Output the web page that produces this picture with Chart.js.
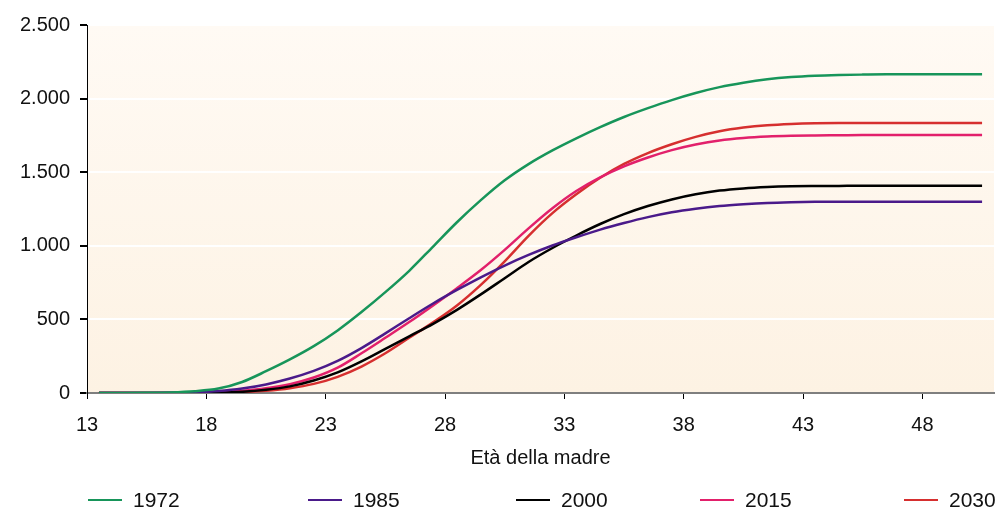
<!DOCTYPE html>
<html>
<head>
<meta charset="utf-8">
<script src="https://cdn.jsdelivr.net/npm/chart.js@4/dist/chart.umd.min.js"></script>
<style>
  body { margin: 0; background: #fff; }
  .wrap { position: relative; width: 999px; height: 509px; }
  .legend { position: absolute; left: 0; top: 488px; width: 999px; height: 24px;
            font: 21px "Liberation Sans", Arial, sans-serif; color: #111; }
  .legend-item { position: absolute; top: 0; height: 24px; display: flex; align-items: center; }
  .legend-line { width: 34px; height: 2.5px; margin-right: 11px; }
</style>
</head>
<body>
<div class="wrap">
  <canvas id="chart" width="999" height="509"></canvas>
  <div class="legend" id="legend"></div>
</div>
<script>
// Data (cumulated births per 1000 women, by age of mother)
const ages = [13, 14, 15, 16, 17, 18, 19, 20, 21, 22, 23, 24, 25, 26, 27, 28, 29, 30, 31,
  32, 33, 34, 35, 36, 37, 38, 39, 40, 41, 42, 43, 44, 45, 46, 47, 48, 49, 50];

const years = ["1972", "1985", "2000", "2015", "2030"];

const births1972 = [0, 0, 1, 4, 12, 30, 75, 148, 228, 318, 425, 550, 685, 830, 995, 1160, 1310,
  1445, 1555, 1648, 1730, 1806, 1875, 1935, 1990, 2038, 2078, 2108, 2131, 2146, 2155, 2160,
  2163, 2165, 2165, 2165, 2165, 2165];
const births1985 = [0, 0, 0, 1, 4, 13, 30, 58, 98, 150, 218, 305, 405, 508, 608, 700, 786, 866,
  938, 1002, 1058, 1110, 1155, 1195, 1228, 1252, 1270, 1282, 1291, 1296, 1299, 1300, 1300,
  1300, 1300, 1300, 1300, 1300];
const births2000 = [0, 0, 0, 0, 0, 2, 8, 22, 45, 85, 140, 215, 300, 385, 470, 565, 670, 780,
  890, 985, 1070, 1148, 1215, 1270, 1315, 1350, 1375, 1390, 1399, 1404, 1406, 1407, 1408,
  1408, 1408, 1408, 1408, 1408];
const births2015 = [0, 0, 0, 0, 1, 5, 15, 32, 60, 105, 172, 270, 375, 482, 595, 712, 835, 972,
  1118, 1255, 1372, 1465, 1540, 1600, 1650, 1688, 1716, 1733, 1743, 1748, 1750, 1751, 1752,
  1752, 1752, 1752, 1752, 1752];
const births2030 = [0, 0, 0, 0, 0, 1, 6, 16, 33, 62, 110, 180, 270, 375, 480, 595, 735, 895,
  1068, 1222, 1350, 1462, 1556, 1630, 1690, 1740, 1778, 1803, 1819, 1828, 1833, 1835, 1835,
  1835, 1835, 1835, 1835, 1835];

const xTicks = [13, 18, 23, 28, 33, 38, 43, 48];
const yTicks = [0, 500, 1000, 1500, 2000, 2500];

const colors = ["#17955a", "#4a1a8a", "#000000", "#e2206b", "#d62f2f"];
const allSeries = [births1972, births1985, births2000, births2015, births2030];

// points sit in the middle of each year of age
function toPoints(values) {
  return values.map((v, i) => ({ x: ages[i] + 0.5, y: v }));
}

function formatIt(v) {
  return String(v).replace(/\B(?=(\d{3})+(?!\d))/g, ".");
}

const plotBackground = {
  id: "plotBackground",
  beforeDraw(chart) {
    const { ctx, chartArea: a } = chart;
    const g = ctx.createLinearGradient(0, a.top, 0, a.bottom);
    g.addColorStop(0, "#fffaf4");
    g.addColorStop(1, "#fdf2e3");
    ctx.save();
    ctx.fillStyle = g;
    ctx.fillRect(a.left, a.top, a.right - a.left, a.bottom - a.top);
    ctx.restore();
  },
};

const font = "'Liberation Sans', Arial, sans-serif";

const chart = new Chart(document.getElementById("chart"), {
  type: "line",
  data: {
    datasets: years.map((y, i) => ({
      label: y,
      data: toPoints(allSeries[i]),
      borderColor: colors[i],
      backgroundColor: colors[i],
    })),
  },
  options: {
    responsive: false,
    animation: false,
    layout: { padding: { top: 25, right: 5, left: 0, bottom: 0 } },
    plugins: { legend: { display: false }, tooltip: { enabled: false } },
    elements: {
      point: { radius: 0 },
      line: { borderWidth: 2.5, cubicInterpolationMode: "monotone" },
    },
    scales: {
      x: {
        type: "linear",
        min: 13,
        max: 51,
        afterBuildTicks: (s) => { s.ticks = xTicks.map((v) => ({ value: v })); },
        afterFit: (s) => { s.height = 116; },
        grid: { drawOnChartArea: false, tickLength: 6, tickColor: "#000" },
        border: { color: "#7f7f7f", width: 2 },
        ticks: { padding: 14, color: "#111", font: { family: font, size: 20 }, maxRotation: 0 },
        title: {
          display: true,
          text: "Età della madre",
          color: "#111",
          font: { family: font, size: 20 },
          padding: { top: 0, bottom: 39 },
        },
      },
      y: {
        min: 0,
        max: 2500,
        afterBuildTicks: (s) => { s.ticks = yTicks.map((v) => ({ value: v })); },
        afterFit: (s) => { s.width = 87; },
        grid: { color: "#ffffff", lineWidth: 2, tickLength: 7, tickColor: "#000" },
        border: { color: "#000", width: 1 },
        ticks: { padding: 10, color: "#111", font: { family: font, size: 20 }, callback: (v) => formatIt(v) },
      },
    },
  },
  plugins: [plotBackground],
});

// legend built from the datasets
const legendLeft = [88, 308, 516, 700, 904];
const legend = document.getElementById("legend");
chart.data.datasets.forEach((ds, i) => {
  const item = document.createElement("div");
  item.className = "legend-item";
  item.style.left = legendLeft[i] + "px";
  const line = document.createElement("span");
  line.className = "legend-line";
  line.style.background = ds.borderColor;
  const text = document.createElement("span");
  text.textContent = ds.label;
  item.append(line, text);
  legend.append(item);
});
</script>
</body>
</html>
